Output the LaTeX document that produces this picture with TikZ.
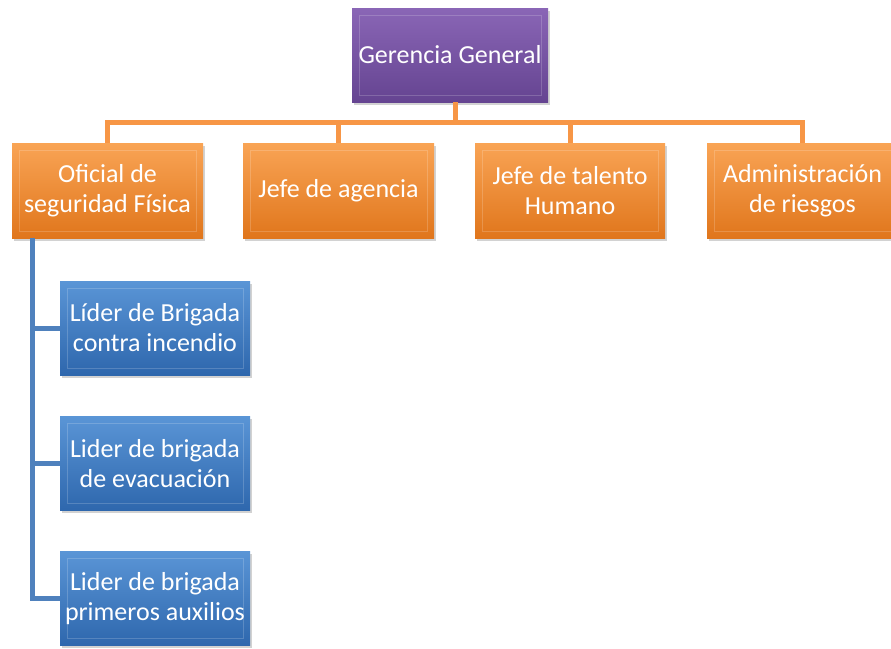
\documentclass[tikz,border=0pt]{standalone}
\usepackage{fontspec}
\setmainfont{Carlito}
\usetikzlibrary{shadows}
\definecolor{orgtop}{HTML}{F9A455}
\definecolor{orgbot}{HTML}{E0761C}
\definecolor{orgline}{HTML}{F79646}
\definecolor{blutop}{HTML}{5A95D6}
\definecolor{blubot}{HTML}{2E67AD}
\definecolor{bluline}{HTML}{4F81BD}
\definecolor{purtop}{HTML}{8A66B6}
\definecolor{purbot}{HTML}{654491}
\begin{document}
\begin{tikzpicture}[x=1pt,y=1pt,
  box/.style={draw=none, minimum height=95pt, inner sep=0pt, align=center, text=white,
    font=\fontsize{26}{30}\selectfont,
    drop shadow={shadow xshift=2pt, shadow yshift=-2.5pt, opacity=0.35},
    path picture={\draw[white, opacity=0.18, line width=1pt]
      ([shift={(7pt,-7pt)}]path picture bounding box.north west) rectangle
      ([shift={(-7pt,7pt)}]path picture bounding box.south east);}},
  obox/.style={box, minimum width=191pt, top color=orgtop, bottom color=orgbot},
  bbox/.style={box, minimum width=190pt, minimum height=94pt, top color=blutop, bottom color=blubot},
  pbox/.style={box, minimum width=196pt, minimum height=94pt, top color=purtop, bottom color=purbot},
  oline/.style={draw=orgline, line width=5pt},
  bline/.style={draw=bluline, line width=5pt}]
\useasboundingbox (0,0) rectangle (891,-648);
\fill[white] (0,0) rectangle (891,-648);
\coordinate (bus) at (455,-122);
\coordinate (trunk) at (32,-238);
\node[pbox] (gg) at (450,-55) {Gerencia General};
\node[obox] (o1) at (107.5,-190.5) {Oficial de\\seguridad Física};
\node[obox] (o2) at (338.5,-190.5) {Jefe de agencia};
\node[obox, minimum width=190pt] (o3) at (570,-190.5) {Jefe de talento\\Humano};
\node[obox] (o4) at (802.5,-190.5) {Administración\\de riesgos};
\node[bbox] (b1) at (155,-328) {Líder de Brigada\\contra incendio};
\node[bbox] (b2) at (155,-463.5) {Lider de brigada\\de evacuación};
\node[bbox] (b3) at (155,-598.5) {Lider de brigada\\primeros auxilios};
\draw[oline] (gg.south -| bus) -- (bus);
\draw[oline] (o1.north) |- (bus) -| (o4.north);
\draw[oline] (o2.north) -- (o2.north |- bus);
\draw[oline] (o3.north) -- (o3.north |- bus);
\draw[bline] (o1.south -| trunk) |- (b3.west);
\draw[bline] (b1.west) -- (b1.west -| trunk);
\draw[bline] (b2.west) -- (b2.west -| trunk);
\end{tikzpicture}
\end{document}
